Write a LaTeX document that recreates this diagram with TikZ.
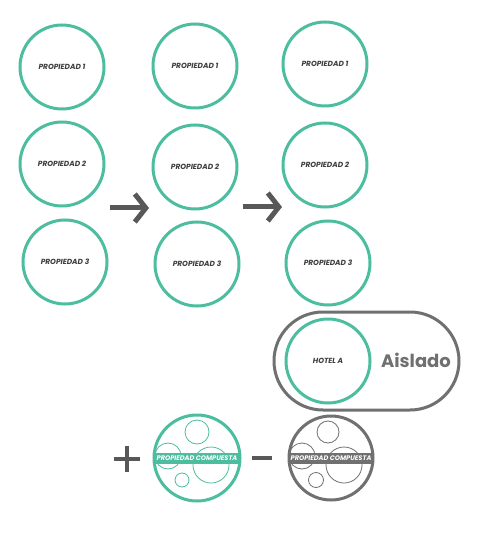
\documentclass[tikz,border=0pt]{standalone}
\usepackage{fontspec}
\setsansfont{Poppins}
\usepackage{tikz}
\usetikzlibrary{arrows.meta}
\definecolor{propTeal}{RGB}{77,189,160}
\definecolor{midGray}{RGB}{112,112,112}
\definecolor{darkGray}{RGB}{88,88,88}
\definecolor{textGray}{RGB}{62,62,62}
\tikzset{
  prop/.style={circle,draw=propTeal,line width=3pt,minimum size=84pt,inner sep=0pt,
               font=\sffamily\bfseries\itshape\fontsize{7.4}{8}\selectfont,text=textGray},
  arr/.style={-{Straight Barb[length=11pt,width=28pt]},line width=5pt,darkGray},
  bub/.style={line width=0.8pt},
  band/.style={font=\sffamily\bfseries\itshape\fontsize{6.6}{7}\selectfont,text=white},
}
\begin{document}
\begin{tikzpicture}[x=1pt,y=-1pt]
  \useasboundingbox[fill=white] (0,0) rectangle (486,534);
  % three columns of properties
  \node[prop] (p11) at (62,67)   {PROPIEDAD 1};
  \node[prop] (p12) at (62,164)  {PROPIEDAD 2};
  \node[prop] (p13) at (65,262)  {PROPIEDAD 3};
  \node[prop] (p21) at (195,66)  {PROPIEDAD 1};
  \node[prop] (p22) at (195,167) {PROPIEDAD 2};
  \node[prop] (p23) at (197,264) {PROPIEDAD 3};
  \node[prop] (p31) at (325,64)  {PROPIEDAD 1};
  \node[prop] (p32) at (325,165) {PROPIEDAD 2};
  \node[prop] (p33) at (328,263) {PROPIEDAD 3};
  \coordinate (a1s) at (110,208); \coordinate (a1e) at (149,208);
  \coordinate (a2s) at (243,207); \coordinate (a2e) at (282,207);
  \draw[arr] (a1s) -- (a1e);
  \draw[arr] (a2s) -- (a2e);
  % isolated hotel
  \draw[midGray,line width=3pt,rounded corners=49pt] (274,312) rectangle (459,410);
  \node[prop] (hotel) at (328,361) {HOTEL A};
  \node[font=\sffamily\bfseries\fontsize{18}{20}\selectfont,text=midGray] (aislado) at (416,360) {Aislado};
  % compound properties
  \coordinate (plus) at (127,459);
  \draw[darkGray,line width=4pt] ([xshift=-13pt]plus) -- ([xshift=13pt]plus)
        ([yshift=-13pt]plus) -- ([yshift=13pt]plus);
  \coordinate (minus) at (262,458);
  \draw[darkGray,line width=4pt] ([xshift=-10pt]minus) -- ([xshift=10pt]minus);
  \begin{scope}
    \clip (197,458) circle (43);
    \fill[propTeal] (150,452.5) rectangle (245,463.5);
  \end{scope}
  \draw[propTeal,bub] (197,432) circle (12) (168,456) circle (13) (211,465) circle (18) (182,480) circle (7);
  \node[prop,minimum size=86pt] (cmpA) at (197,458) {};
  \node[band] at (197,458) {PROPIEDAD COMPUESTA};
  \begin{scope}
    \clip (331,458) circle (42);
    \fill[midGray] (285,452.5) rectangle (380,463.5);
  \end{scope}
  \draw[midGray,bub] (328,432) circle (11) (302,456) circle (13) (344,465) circle (18) (316,480) circle (7.5);
  \node[prop,draw=midGray,minimum size=84pt] (cmpB) at (331,458) {};
  \node[band] at (331,458) {PROPIEDAD COMPUESTA};
\end{tikzpicture}
\end{document}
